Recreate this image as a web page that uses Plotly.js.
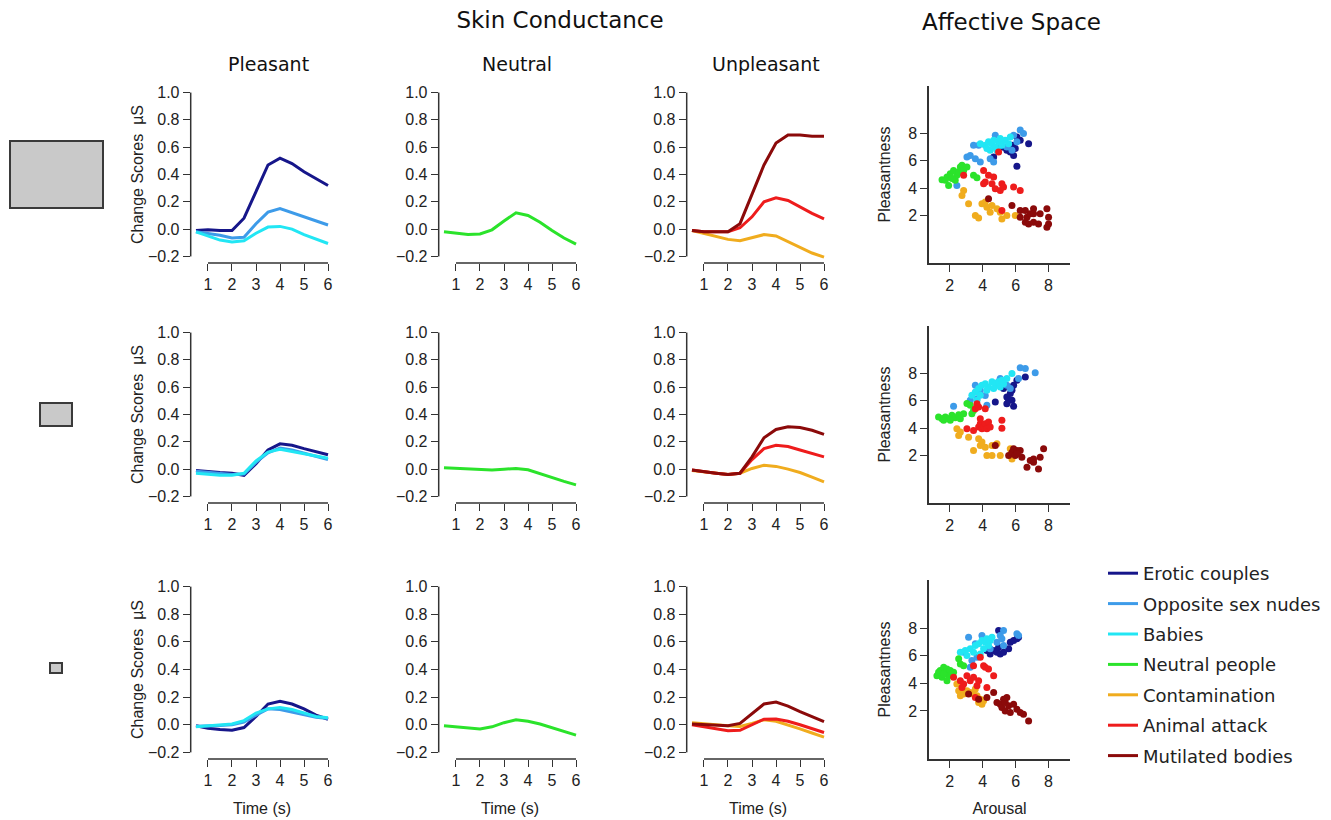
<!DOCTYPE html>
<html><head><meta charset="utf-8">
<script src="https://cdn.plot.ly/plotly-3.0.1.min.js"></script>
<style>html,body{margin:0;padding:0;background:#fff}#chart{width:1331px;height:820px}</style>
</head><body><div id="chart"></div>
<script>
// ---------- DATA ----------
const times = [0.5,1,1.5,2,2.5,3,3.5,4,4.5,5,5.5,6];
const categories = ['Erotic couples','Opposite sex nudes','Babies','Neutral people','Contamination','Animal attack','Mutilated bodies'];
const colors = ['#16168a','#3d9be9','#22e6f4','#2be32b','#f0ac1e','#ee1c1c','#8b0a0a'];
const panelTitles = ['Pleasant','Neutral','Unpleasant'];
const yTicksSC = [-0.2,0,0.2,0.4,0.6,0.8,1.0];
const xTicksTime = [1,2,3,4,5,6];
const ticksAffect = [2,4,6,8];

// Skin conductance change scores, large images (row 1)
const L_erotic  = [-0.01,-0.005,-0.01,-0.01,0.08,0.28,0.47,0.52,0.48,0.42,0.37,0.32];
const L_nudes   = [-0.02,-0.03,-0.045,-0.065,-0.06,0.04,0.125,0.15,0.12,0.09,0.06,0.03];
const L_babies  = [-0.02,-0.05,-0.08,-0.095,-0.085,-0.03,0.015,0.02,0.0,-0.04,-0.075,-0.105];
const L_neutral = [-0.02,-0.03,-0.04,-0.035,-0.005,0.06,0.12,0.1,0.05,-0.01,-0.065,-0.11];
const L_contam  = [-0.01,-0.03,-0.05,-0.075,-0.085,-0.06,-0.04,-0.05,-0.09,-0.135,-0.175,-0.205];
const L_animal  = [-0.01,-0.02,-0.02,-0.02,0.01,0.09,0.2,0.23,0.21,0.16,0.115,0.075];
const L_mutil   = [-0.01,-0.02,-0.02,-0.02,0.04,0.26,0.47,0.63,0.69,0.69,0.68,0.68];
// medium images (row 2)
const M_erotic  = [-0.01,-0.02,-0.025,-0.03,-0.045,0.04,0.14,0.185,0.175,0.15,0.125,0.105];
const M_nudes   = [-0.015,-0.025,-0.035,-0.04,-0.035,0.05,0.12,0.155,0.14,0.115,0.09,0.07];
const M_babies  = [-0.03,-0.04,-0.045,-0.045,-0.03,0.06,0.125,0.145,0.13,0.11,0.095,0.08];
const M_neutral = [0.01,0.005,0.0,-0.005,-0.007,0.0,0.005,-0.005,-0.035,-0.065,-0.09,-0.115];
const M_contam  = [-0.01,-0.02,-0.03,-0.04,-0.03,0.005,0.028,0.02,0.0,-0.025,-0.058,-0.093];
const M_animal  = [-0.007,-0.02,-0.03,-0.04,-0.03,0.07,0.15,0.175,0.165,0.14,0.115,0.09];
const M_mutil   = [-0.007,-0.02,-0.03,-0.04,-0.03,0.09,0.23,0.29,0.31,0.305,0.285,0.255];
// small images (row 3)
const S_erotic  = [-0.007,-0.025,-0.035,-0.04,-0.02,0.06,0.15,0.17,0.15,0.115,0.07,0.04];
const S_nudes   = [-0.01,-0.01,-0.005,0.0,0.02,0.07,0.115,0.11,0.09,0.07,0.055,0.045];
const S_babies  = [-0.015,-0.01,-0.005,0.005,0.03,0.085,0.115,0.125,0.11,0.085,0.06,0.05];
const S_neutral = [-0.007,-0.015,-0.022,-0.03,-0.015,0.015,0.036,0.025,0.005,-0.022,-0.048,-0.075];
const S_contam  = [0.015,0.01,0.0,-0.007,-0.012,0.01,0.036,0.025,0.0,-0.03,-0.06,-0.09];
const S_animal  = [0.0,-0.015,-0.03,-0.044,-0.04,0.0,0.04,0.042,0.025,0.0,-0.028,-0.056];
const S_mutil   = [0.005,0.0,-0.005,-0.007,0.01,0.08,0.15,0.165,0.135,0.095,0.06,0.022];

// Affective space: arousal (x) and pleasantness (y), large images
const aroL_erotic = [5.47,5.78,5.98,6.08,6.28,6.79,5.68,4.67,6.08,5.88,5.27];
const valL_erotic = [6.77,7.14,6.9,7.75,7.5,7.26,6.65,6.28,5.6,6.4,7.0];
const aroL_nudes = [3.05,3.25,3.56,3.86,2.44,4.77,5.07,4.46,5.47,5.88,6.28,6.48,6.08,5.78,3.45,3.76,4.67];
const valL_nudes = [6.28,6.4,6.16,5.92,4.2,7.88,7.14,6.16,7.02,7.88,8.25,8.0,7.39,6.77,7.14,7.14,5.92];
const aroL_babies = [4.16,4.36,4.57,4.77,4.97,5.17,4.46,4.87,5.37,5.58,4.67,4.26,5.07,3.86,5.68];
const valL_babies = [7.14,7.39,7.26,7.02,7.39,7.14,6.77,6.77,7.51,7.26,7.51,6.9,7.63,7.26,7.75];
const aroL_neutral = [1.54,1.84,1.94,2.04,2.24,2.44,2.65,2.75,2.55,2.85,2.34,1.74,3.45,3.66,2.14,3.05];
const valL_neutral = [4.62,4.81,4.2,5.06,5.3,4.94,5.55,5.67,5.18,5.3,4.57,4.57,4.94,4.77,4.7,5.55];
const aroL_contam = [2.85,2.75,3.15,3.56,3.76,3.96,4.26,4.57,4.87,5.07,4.46,5.47,5.17,5.98,4.16];
const valL_contam = [3.83,3.47,2.85,2.0,1.82,2.85,2.6,2.73,2.49,2.24,2.24,2.0,1.75,2.0,2.98];
const aroL_animal = [4.06,4.36,4.67,4.16,4.06,4.57,4.77,5.07,5.17,5.27,5.88,6.28,2.85,4.97,5.17];
const valL_animal = [5.3,4.94,4.81,4.45,4.32,4.32,3.96,3.83,4.32,4.08,4.08,3.83,4.94,6.65,2.36];
const aroL_mutil = [5.78,6.28,6.59,7.09,6.69,6.89,6.59,6.79,7.09,7.39,7.49,7.9,8.0,7.9,8.0,4.36,7.09,6.28];
const valL_mutil = [2.73,2.36,2.36,2.49,1.87,2.12,1.5,1.38,1.5,1.38,2.12,2.49,1.87,1.14,1.38,3.22,2.12,1.87];
// medium images
const aroM_erotic = [5.07,5.27,5.47,5.58,5.78,5.78,5.88,5.68,5.88,4.77,6.08,6.59,5.47];
const valM_erotic = [7.14,6.9,6.28,6.04,6.04,6.77,7.14,6.53,5.6,5.92,7.51,7.75,5.79];
const aroM_nudes = [2.24,3.56,3.86,4.16,5.07,5.47,6.28,6.59,7.19,6.18,3.66,3.25,4.26,4.97,5.68];
const valM_nudes = [5.6,7.14,6.77,6.4,7.63,7.14,8.42,8.37,8.05,7.63,6.16,6.04,5.67,7.39,6.9];
const aroM_babies = [3.56,3.76,3.96,4.16,4.36,4.57,4.77,4.97,5.17,5.47,5.78,3.35,3.66,3.86,4.26,4.67,5.07,5.27];
const valM_babies = [6.65,6.9,7.14,7.26,7.02,7.39,7.26,7.39,7.51,7.63,8.0,6.41,6.04,6.41,6.77,6.9,7.02,7.26];
const aroM_neutral = [1.33,1.54,1.74,1.94,2.14,2.34,2.55,2.65,2.04,3.05,3.25,3.45,3.35,2.85,1.64];
const valM_neutral = [4.81,4.69,4.81,4.69,4.94,4.77,4.99,4.69,4.57,5.8,5.67,5.3,5.06,5.06,4.57];
const aroM_contam = [2.44,2.65,2.55,3.15,3.45,3.76,3.86,4.16,4.26,4.57,4.57,4.87,5.07,5.68,5.78,3.96];
const valM_contam = [3.96,3.71,3.47,3.34,2.36,3.22,2.73,2.61,2.0,2.0,2.73,2.85,2.0,2.49,1.75,2.98];
const aroM_animal = [3.56,3.76,3.66,3.05,3.45,3.76,3.86,3.96,4.06,4.16,4.26,4.36,4.46,5.17,5.17,4.16,3.86];
const valM_animal = [5.43,5.55,5.79,3.96,3.83,4.08,4.32,3.96,4.08,4.32,3.96,4.45,4.08,4.57,4.0,5.43,4.69];
const aroM_mutil = [4.77,5.58,5.78,5.88,6.08,6.28,5.98,6.38,6.69,6.89,7.09,7.49,7.7,7.39,6.08,7.09];
const valM_mutil = [2.73,2.0,2.24,2.49,2.36,2.36,2.0,1.87,1.14,1.63,1.5,1.87,2.49,1.01,2.12,1.75];
// small images
const aroS_erotic = [4.46,4.67,4.87,4.97,5.07,5.27,5.58,5.68,5.88,6.08,4.97,6.18,4.26];
const valS_erotic = [6.13,6.37,6.25,6.62,6.13,6.25,6.5,6.98,7.1,7.22,7.83,7.34,6.37];
const aroS_nudes = [3.15,3.56,3.96,4.46,5.07,5.27,5.17,6.08,6.18,3.35,3.25,5.27,4.87,2.85,3.66];
const valS_nudes = [7.34,6.86,7.47,6.5,7.47,7.83,7.22,7.59,7.47,5.65,5.16,6.74,6.98,6.25,5.89];
const aroS_babies = [2.65,2.95,3.25,3.56,3.76,3.96,4.16,4.26,4.36,4.46,4.57,4.06,3.05,3.45,3.86];
const valS_babies = [6.25,6.37,6.5,6.74,6.86,7.1,6.98,7.22,6.74,7.1,7.34,6.5,6.01,6.25,6.13];
const aroS_neutral = [1.23,1.43,1.64,1.74,1.84,1.94,2.04,1.54,2.14,1.84,2.24,2.55,2.65,2.85,1.33,1.64];
const valS_neutral = [4.55,4.92,5.16,4.8,5.04,4.55,4.92,4.43,4.67,4.19,4.8,5.77,5.4,5.28,4.8,4.67];
const aroS_contam = [2.44,2.55,2.65,2.85,3.05,3.25,3.45,3.56,3.66,3.76,3.86,3.96,4.06,2.75];
const valS_contam = [3.95,3.46,3.1,3.22,3.46,3.34,3.22,3.58,3.1,2.61,2.85,2.49,2.73,3.58];
const aroS_animal = [2.24,2.65,2.85,3.05,3.25,3.45,3.45,3.66,3.76,3.86,4.06,4.16,4.26,4.36,4.67,2.75,3.56];
const valS_animal = [4.43,4.19,3.95,4.55,4.19,4.43,5.28,3.83,4.19,5.89,5.28,5.16,3.7,5.04,4.55,3.7,2.98];
const aroS_mutil = [3.15,3.76,4.26,4.67,4.87,5.07,5.17,5.27,5.37,5.47,5.58,5.88,6.08,6.28,6.48,6.79,5.37,5.68];
const valS_mutil = [3.22,2.85,2.98,3.34,2.61,2.49,2.25,2.85,2.61,2.98,2.37,2.49,2.13,1.88,1.76,1.28,2.0,1.88];

// ---------- ASSEMBLY ----------
const lineRows = [
  [L_erotic,L_nudes,L_babies,L_neutral,L_contam,L_animal,L_mutil],
  [M_erotic,M_nudes,M_babies,M_neutral,M_contam,M_animal,M_mutil],
  [S_erotic,S_nudes,S_babies,S_neutral,S_contam,S_animal,S_mutil]
];
const aroRows = [
  [aroL_erotic,aroL_nudes,aroL_babies,aroL_neutral,aroL_contam,aroL_animal,aroL_mutil],
  [aroM_erotic,aroM_nudes,aroM_babies,aroM_neutral,aroM_contam,aroM_animal,aroM_mutil],
  [aroS_erotic,aroS_nudes,aroS_babies,aroS_neutral,aroS_contam,aroS_animal,aroS_mutil]
];
const valRows = [
  [valL_erotic,valL_nudes,valL_babies,valL_neutral,valL_contam,valL_animal,valL_mutil],
  [valM_erotic,valM_nudes,valM_babies,valM_neutral,valM_contam,valM_animal,valM_mutil],
  [valS_erotic,valS_nudes,valS_babies,valS_neutral,valS_contam,valS_animal,valS_mutil]
];
const colCats = [[0,1,2],[3],[4,5,6]];

const W = 1331, H = 820;
const colPx = [[190.7,333.3],[438.7,581.3],[686.7,829.3],[929,1070]];
const rowPx = [[86,263],[326,503],[580,759]];
const AX = '#333';
const tickFont = {family:'Liberation Sans, Arial, sans-serif', size:16, color:'#222'};
const titleFont = {family:'Liberation Sans, Arial, sans-serif', size:16, color:'#222'};
const headFont = {family:'DejaVu Sans, Verdana, sans-serif', color:'#111'};

const traces = [];
const layout = {
  width: W, height: H,
  margin: {l:0, r:0, t:0, b:0},
  paper_bgcolor: '#fff', plot_bgcolor: 'rgba(0,0,0,0)',
  showlegend: true,
  legend: {x: 1103/W, y: 1-555/H, xanchor:'left', yanchor:'top',
           font:{family:'DejaVu Sans, Verdana, sans-serif', size:18, color:'#222'},
           tracegroupgap: 4, bgcolor:'rgba(0,0,0,0)', traceorder:'grouped'},
  title: {text:'Skin Conductance', x: 560/W, xanchor:'center', xref:'paper',
          y: 1-20/H, yanchor:'middle', yref:'paper',
          font:Object.assign({size:23}, headFont)},
  annotations: [], shapes: []
};

function ref(k){ return k === 1 ? '' : String(k); }

for (let r = 0; r < 3; r++) {
  for (let c = 0; c < 4; c++) {
    const k = r*4 + c + 1, s = ref(k);
    const xd = [colPx[c][0]/W, colPx[c][1]/W];
    const yd = [1-rowPx[r][1]/H, 1-rowPx[r][0]/H];
    const common = {showgrid:false, zeroline:false, ticks:'outside', ticklen:7, tickwidth:1.4,
                    tickcolor:AX, tickfont:tickFont, fixedrange:true};
    if (c < 3) {
      layout['xaxis'+s] = Object.assign({}, common, {domain:xd, anchor:'y'+s, range:[0.28,6.22],
        tickvals:xTicksTime, showline:false,
        title: r===2 ? {text:'Time (s)', font:titleFont, standoff:14} : undefined});
      layout['yaxis'+s] = Object.assign({}, common, {domain:yd, anchor:'x'+s, range:[-0.248,1.048],
        tickvals:yTicksSC, tickformat:'.1f', showline:false,
        title: c===0 ? {text:'Change Scores  µS', font:titleFont, standoff:0} : undefined});
      // R-style detached axis lines
      layout.shapes.push({type:'line', xref:'x'+s+' domain', yref:'y'+s, x0:0, x1:0, y0:-0.2, y1:1.0,
                          line:{color:AX, width:1.5}});
      layout.shapes.push({type:'line', xref:'x'+s, yref:'y'+s+' domain', x0:1, x1:6, y0:0, y1:0,
                          line:{color:AX, width:1.5}});
      colCats[c].forEach(ci => {
        traces.push({type:'scatter', mode:'lines', x:times, y:lineRows[r][ci],
          xaxis:'x'+s, yaxis:'y'+s, name:categories[ci], legendgroup:categories[ci],
          showlegend: r===0, line:{color:colors[ci], width:3}, hoverinfo:'x+y+name'});
      });
    } else {
      layout['xaxis'+s] = Object.assign({}, common, {domain:xd, anchor:'y'+s, range:[0.75,9.3],
        tickvals:ticksAffect, showline:true, linecolor:AX, linewidth:1.5,
        title: r===2 ? {text:'Arousal', font:titleFont, standoff:14} : undefined});
      layout['yaxis'+s] = Object.assign({}, common, {domain:yd, anchor:'x'+s, range:[-1.48,11.48],
        tickvals:ticksAffect, showline:true, linecolor:AX, linewidth:1.5,
        title: {text:'Pleasantness', font:titleFont, standoff:14}});
      for (let ci = 0; ci < 7; ci++) {
        traces.push({type:'scatter', mode:'markers', x:aroRows[r][ci], y:valRows[r][ci],
          xaxis:'x'+s, yaxis:'y'+s, name:categories[ci], legendgroup:categories[ci],
          showlegend:false, marker:{color:colors[ci], size:7}, hoverinfo:'x+y+name'});
      }
    }
  }
}

// column headings
const headX = [268, 517, 766];
panelTitles.forEach((t,i) => layout.annotations.push({text:t, x:headX[i]/W, y:1-64/H, xref:'paper', yref:'paper',
  showarrow:false, xanchor:'center', yanchor:'middle', font:Object.assign({size:19}, headFont)}));
layout.annotations.push({text:'Affective Space', x:1011/W, y:1-22/H, xref:'paper', yref:'paper',
  showarrow:false, xanchor:'center', yanchor:'middle', font:Object.assign({size:23}, headFont)});

// image-size icons (large / medium / small)
const iconPx = [[10,141,103,208],[40,403,72,426],[50,663,62,673]];
iconPx.forEach(b => layout.shapes.push({type:'rect', xref:'paper', yref:'paper',
  x0:b[0]/W, x1:b[2]/W, y0:1-b[3]/H, y1:1-b[1]/H, fillcolor:'#c9c9c9', line:{color:'#3a3a3a', width:2}}));

Plotly.newPlot('chart', traces, layout, {displayModeBar:false});
</script></body></html>
